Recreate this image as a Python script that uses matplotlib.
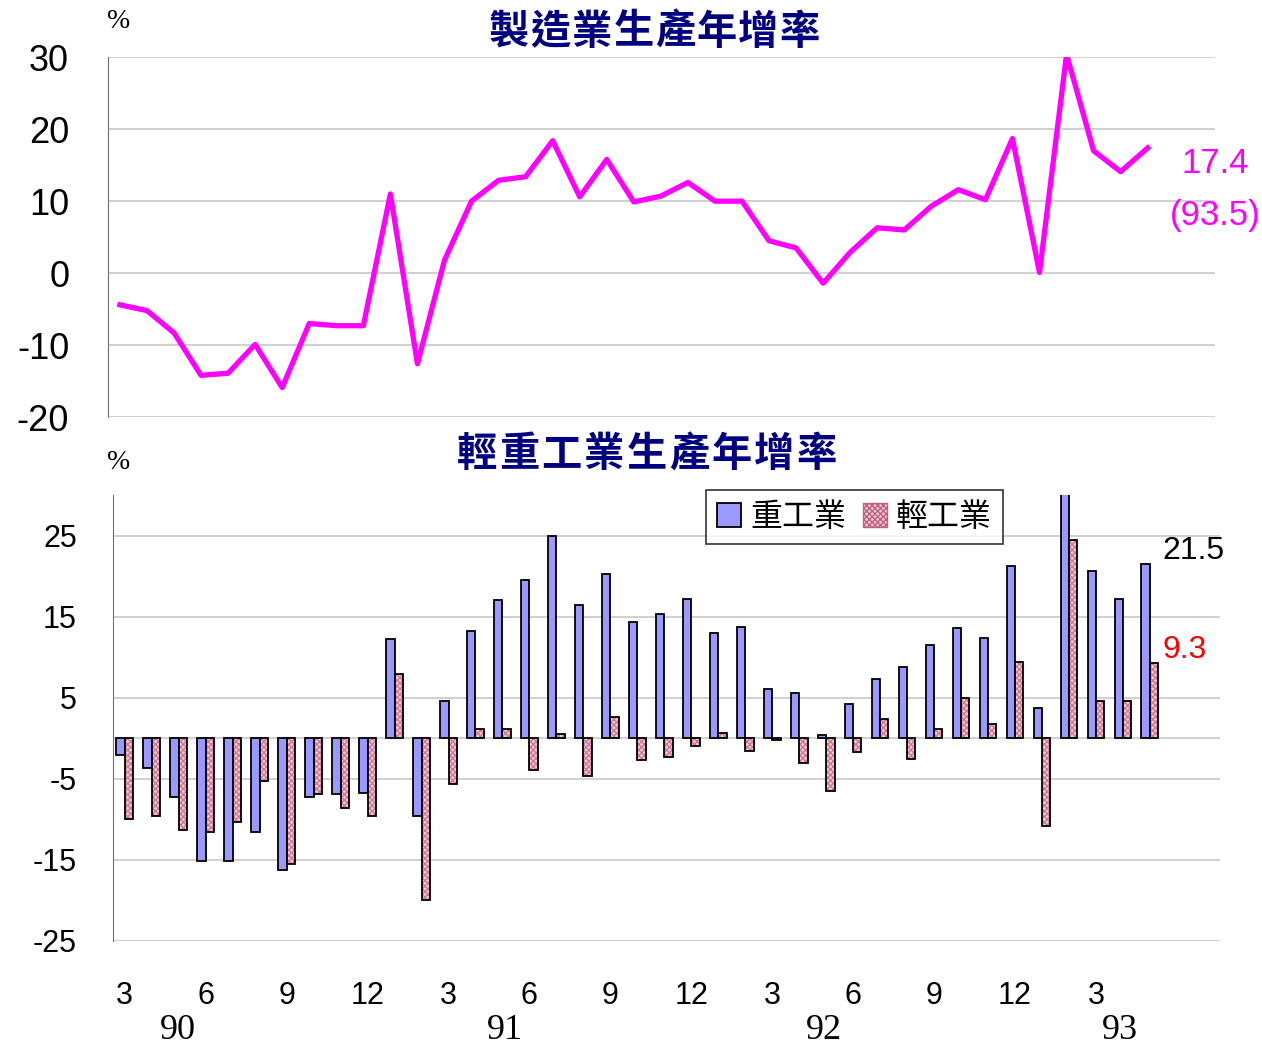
import numpy as np
import matplotlib
matplotlib.use('Agg')
import matplotlib.pyplot as plt
from matplotlib.patches import Patch

plt.rcParams['font.family'] = ['Liberation Sans', 'DejaVu Sans']
plt.rcParams['axes.unicode_minus'] = False
cjk = ['Noto Sans CJK TC', 'DejaVu Sans']

# months 90/3 .. 93/5
month_labels = ['3', '4', '5', '6', '7', '8', '9', '10', '11', '12',
                '1', '2', '3', '4', '5', '6', '7', '8', '9', '10', '11', '12',
                '1', '2', '3', '4', '5', '6', '7', '8', '9', '10', '11', '12',
                '1', '2', '3', '4', '5']
years = ['90', '91', '92', '93']
year_pos = [1.96, 14.1, 25.9, 36.9]

total = [-4.4, -5.2, -8.3, -14.2, -13.9, -9.9, -15.9, -7.0, -7.3, -7.3,
         11.0, -12.6, 1.8, 10.0, 12.9, 13.4, 18.4, 10.6, 15.8, 9.9,
         10.7, 12.6, 10.0, 10.0, 4.5, 3.5, -1.4, 2.9, 6.3, 6.0,
         9.3, 11.6, 10.2, 18.7, 0.1, 30.4, 17.0, 14.1, 17.4]
heavy = [-2.1, -3.7, -7.3, -15.1, -15.1, -11.5, -16.2, -7.3, -6.9, -6.7,
         12.2, -9.6, 4.6, 13.2, 17.0, 19.5, 25.0, 16.4, 20.2, 14.3,
         15.3, 17.2, 13.0, 13.7, 6.1, 5.6, 0.4, 4.2, 7.3, 8.8,
         11.5, 13.6, 12.4, 21.2, 3.7, 36.0, 20.6, 17.2, 21.5]
light = [-9.9, -9.6, -11.3, -11.6, -10.3, -5.3, -15.5, -6.9, -8.6, -9.6,
         7.9, -20.0, -5.7, 1.2, 1.2, -3.9, 0.5, -4.6, 2.6, -2.7,
         -2.3, -1.0, 0.6, -1.6, -0.2, -3.1, -6.5, -1.7, 2.4, -2.5,
         1.2, 5.0, 1.8, 9.4, -10.8, 24.5, 4.6, 4.6, 9.3]

x = np.arange(len(month_labels))
grid_c = '#C8C8C8'
W, H = 1262, 1048

fig = plt.figure(figsize=(12.62, 10.48), dpi=100)


def spaced_title(s, x0, step, ypix):
    # Chinese titles are drawn with wide letter spacing
    for k, ch in enumerate(s):
        fig.text((x0 + k * step) / W, 1 - ypix / H, ch, family=cjk, fontsize=29,
                 fontweight='bold', color='#000080', ha='center', va='center')


# ---- top: manufacturing
ax1 = fig.add_axes([0.0856, 0.602, 0.8774, 0.3434])
ax1.plot(x, total, color='#FF00FF', lw=3.8)
ax1.set_ylim(-20, 30)
ax1.set_xlim(-0.44, 40.5)
ax1.set_yticks([-20, -10, 0, 10, 20, 30])
ax1.tick_params(axis='y', length=0, labelsize=26, pad=28)
ax1.set_xticks([])
for v in [-20, -10, 0, 10, 20, 30]:
    ax1.axhline(v, color=grid_c, lw=1.2, zorder=0)
for s in ['top', 'right', 'bottom']:
    ax1.spines[s].set_visible(False)
ax1.spines['left'].set_color('#707070')
ax1.text(40.5, 15.3, '17.4', color='#FF00FF', fontsize=25,
         ha='center', va='center', clip_on=False)
ax1.text(40.5, 8.0, '(93.5)', color='#FF00FF', fontsize=25,
         ha='center', va='center', clip_on=False)
spaced_title('製造業生產年增率', 509, 41.5, 32)
fig.text(119 / W, 1 - 22 / H, '%', family='Liberation Serif', fontsize=20,
         ha='center', va='center')

# ---- bottom: heavy / light industry
ax2 = fig.add_axes([0.0895, 0.1021, 0.8772, 0.4256])
w = 0.31
ax2.bar(x - w / 2, heavy, w, color='#9999FF', edgecolor='black', lw=1.3, zorder=3)
ax2.bar(x + w / 2, light, w, color='#F2CCD6', edgecolor='#D07898', lw=0,
        hatch='xxxxxx', zorder=3)
ax2.bar(x + w / 2, light, w, color='none', edgecolor='black', lw=1.3, zorder=4)
ax2.set_ylim(-25, 30)
ax2.set_xlim(-0.44, 40.6)
ax2.set_yticks([-25, -15, -5, 5, 15, 25])
ax2.tick_params(axis='y', length=0, labelsize=22, pad=26)
for v in [-25, -15, -5, 0, 5, 15, 25]:
    ax2.axhline(v, color=grid_c, lw=1.2, zorder=0)
for s in ['top', 'right', 'bottom']:
    ax2.spines[s].set_visible(False)
ax2.spines['left'].set_color('#707070')
ticks = x[::3]
ax2.set_xticks(ticks)
ax2.set_xticklabels([month_labels[i] for i in ticks])
ax2.tick_params(axis='x', length=0, labelsize=22, pad=29)
for yr, p in zip(years, year_pos):
    ax2.text(p, -0.2, yr, transform=ax2.get_xaxis_transform(),
             family='Liberation Serif', fontsize=26, ha='center', va='center')
ax2.text(39.6, 23.1, '21.5', color='black', fontsize=23, ha='center', va='center')
ax2.text(39.3, 10.9, '9.3', color='#FF0000', fontsize=23, ha='center', va='center')
spaced_title('輕重工業生產年增率', 477, 42.4, 455)
fig.text(119 / W, 1 - 463 / H, '%', family='Liberation Serif', fontsize=20,
         ha='center', va='center')

handles = [Patch(facecolor='#9999FF', edgecolor='black', lw=1.3),
           Patch(facecolor='#F2CCD6', edgecolor='#C06080', hatch='xxxxxx', lw=1.0)]
leg = fig.legend(handles, ['重工業', '輕工業'], loc='upper left',
                 bbox_to_anchor=(706 / W, 1 - 490 / H), borderaxespad=0,
                 ncol=2, frameon=True, fancybox=False,
                 prop={'family': cjk, 'size': 23}, handlelength=0.75, handleheight=0.75,
                 handletextpad=0.3, columnspacing=0.5, borderpad=0.35)
leg.get_frame().set_edgecolor('black')
leg.get_frame().set_linewidth(1.2)

fig.savefig('out.png', dpi=100)
